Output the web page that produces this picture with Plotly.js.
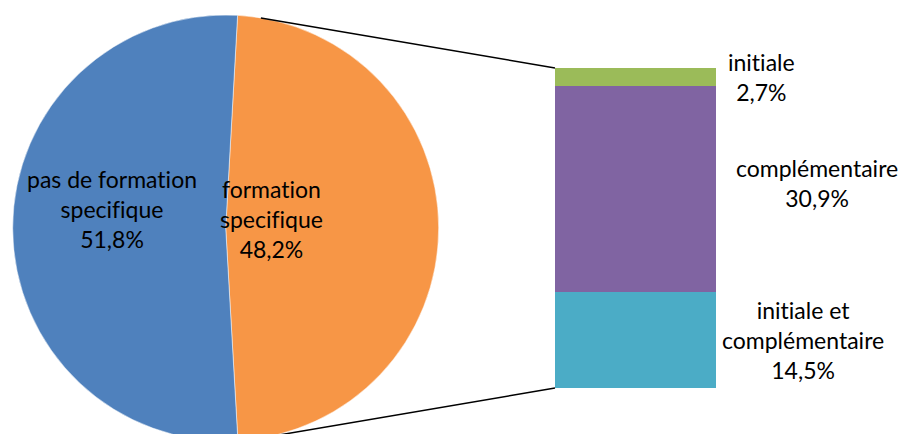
<!DOCTYPE html>
<html>
<head>
<meta charset="utf-8">
<script src="https://cdn.plot.ly/plotly-3.0.1.min.js"></script>
<style>
html, body { margin: 0; padding: 0; background: #fff; overflow: hidden; }
#frame { width: 903px; height: 434px; overflow: hidden; }
svg text { font-variant-ligatures: none; font-feature-settings: "liga" 0, "clig" 0; }
</style>
</head>
<body>
<div id="frame"><div id="chart"></div></div>
<script>
// main pie
var pieLabels = ['formation<br>specifique', 'pas de formation<br>specifique'];
var pieValues = [48.2, 51.8];
var pieColors = ['#F79646', '#4F81BD'];

// breakdown of "formation specifique" (stacked, bottom to top)
var barLabels = ['initiale et<br>complémentaire', 'complémentaire', 'initiale'];
var barValues = [14.5, 30.9, 2.7];
var barColors = ['#4BACC6', '#8064A2', '#9BBB59'];

// layout helpers (pixel positions of the original drawing)
var W = 903, H = 442;
function fx(px) { return px / W; }
function fy(py) { return 1 - py / H; }

var pieCx = 225.7, pieCy = 228, pieR = 213;
var barLeft = 555, barRight = 716, barTop = 68, barBottom = 388;
var pieLabelPos = [[271, 219], [112, 209]];
var barLabelX = [803, 817, 761];
var barLabelShift = [0, 6, 0];
var font = {family: 'Lato, "Open Sans", sans-serif', size: 23, color: '#000'};

function pct(v) { return v.toFixed(1).replace('.', ',') + '%'; }

var pieTotal = pieValues.reduce(function (a, b) { return a + b; }, 0);
var barTotal = barValues.reduce(function (a, b) { return a + b; }, 0);

var traces = [{
    type: 'pie',
    labels: pieLabels,
    values: pieValues,
    sort: false,
    direction: 'clockwise',
    rotation: 3.2,
    marker: {colors: pieColors, line: {color: '#fff', width: 0.5}},
    textinfo: 'none',
    domain: {
        x: [fx(pieCx - pieR), fx(pieCx + pieR)],
        y: [fy(pieCy + pieR), fy(pieCy - pieR)]
    },
    showlegend: false,
    hoverinfo: 'skip'
}];

barValues.forEach(function (v, i) {
    traces.push({
        type: 'bar',
        x: ['f'],
        y: [v],
        marker: {color: barColors[i]},
        showlegend: false,
        hoverinfo: 'skip'
    });
});

var annotations = [];

// pie labels
pieValues.forEach(function (v, i) {
    annotations.push({
        xref: 'paper', yref: 'paper',
        x: fx(pieLabelPos[i][0]), y: fy(pieLabelPos[i][1]),
        text: pieLabels[i] + '<br>' + pct(v / pieTotal * 100),
        showarrow: false,
        align: 'center',
        xanchor: 'center', yanchor: 'middle',
        font: font
    });
});

// labels next to the bar, centred on each segment
var base = 0;
barValues.forEach(function (v, i) {
    annotations.push({
        xref: 'paper', yref: 'y',
        x: fx(barLabelX[i]), y: base + v / 2,
        yshift: barLabelShift[i],
        text: barLabels[i] + '<br>' + pct(v),
        showarrow: false,
        align: 'center',
        xanchor: 'center', yanchor: 'middle',
        font: font
    });
    base += v;
});

// connector lines from the pie to the bar
var a = 9.5 * Math.PI / 180;
var shapes = [
    {type: 'line', xref: 'paper', yref: 'paper',
     x0: fx(pieCx + pieR * Math.sin(a)), y0: fy(pieCy - pieR * Math.cos(a)),
     x1: fx(barLeft), y1: fy(barTop),
     line: {color: '#000', width: 1.5}},
    {type: 'line', xref: 'paper', yref: 'paper',
     x0: fx(pieCx + pieR * Math.sin(a)), y0: fy(pieCy + pieR * Math.cos(a)),
     x1: fx(barLeft), y1: fy(barBottom),
     line: {color: '#000', width: 1.5}}
];

var layout = {
    width: W,
    height: H,
    margin: {l: 0, r: 0, t: 0, b: 0},
    paper_bgcolor: '#fff',
    plot_bgcolor: 'rgba(0,0,0,0)',
    separators: ', ',
    barmode: 'stack',
    bargap: 0,
    font: font,
    xaxis: {
        domain: [fx(barLeft), fx(barRight)],
        range: [-0.5, 0.5],
        visible: false,
        fixedrange: true
    },
    yaxis: {
        domain: [fy(barBottom), fy(barTop)],
        range: [0, barTotal],
        visible: false,
        fixedrange: true
    },
    annotations: annotations,
    shapes: shapes
};

Plotly.newPlot('chart', traces, layout, {displayModeBar: false, staticPlot: true});
</script>
</body>
</html>
